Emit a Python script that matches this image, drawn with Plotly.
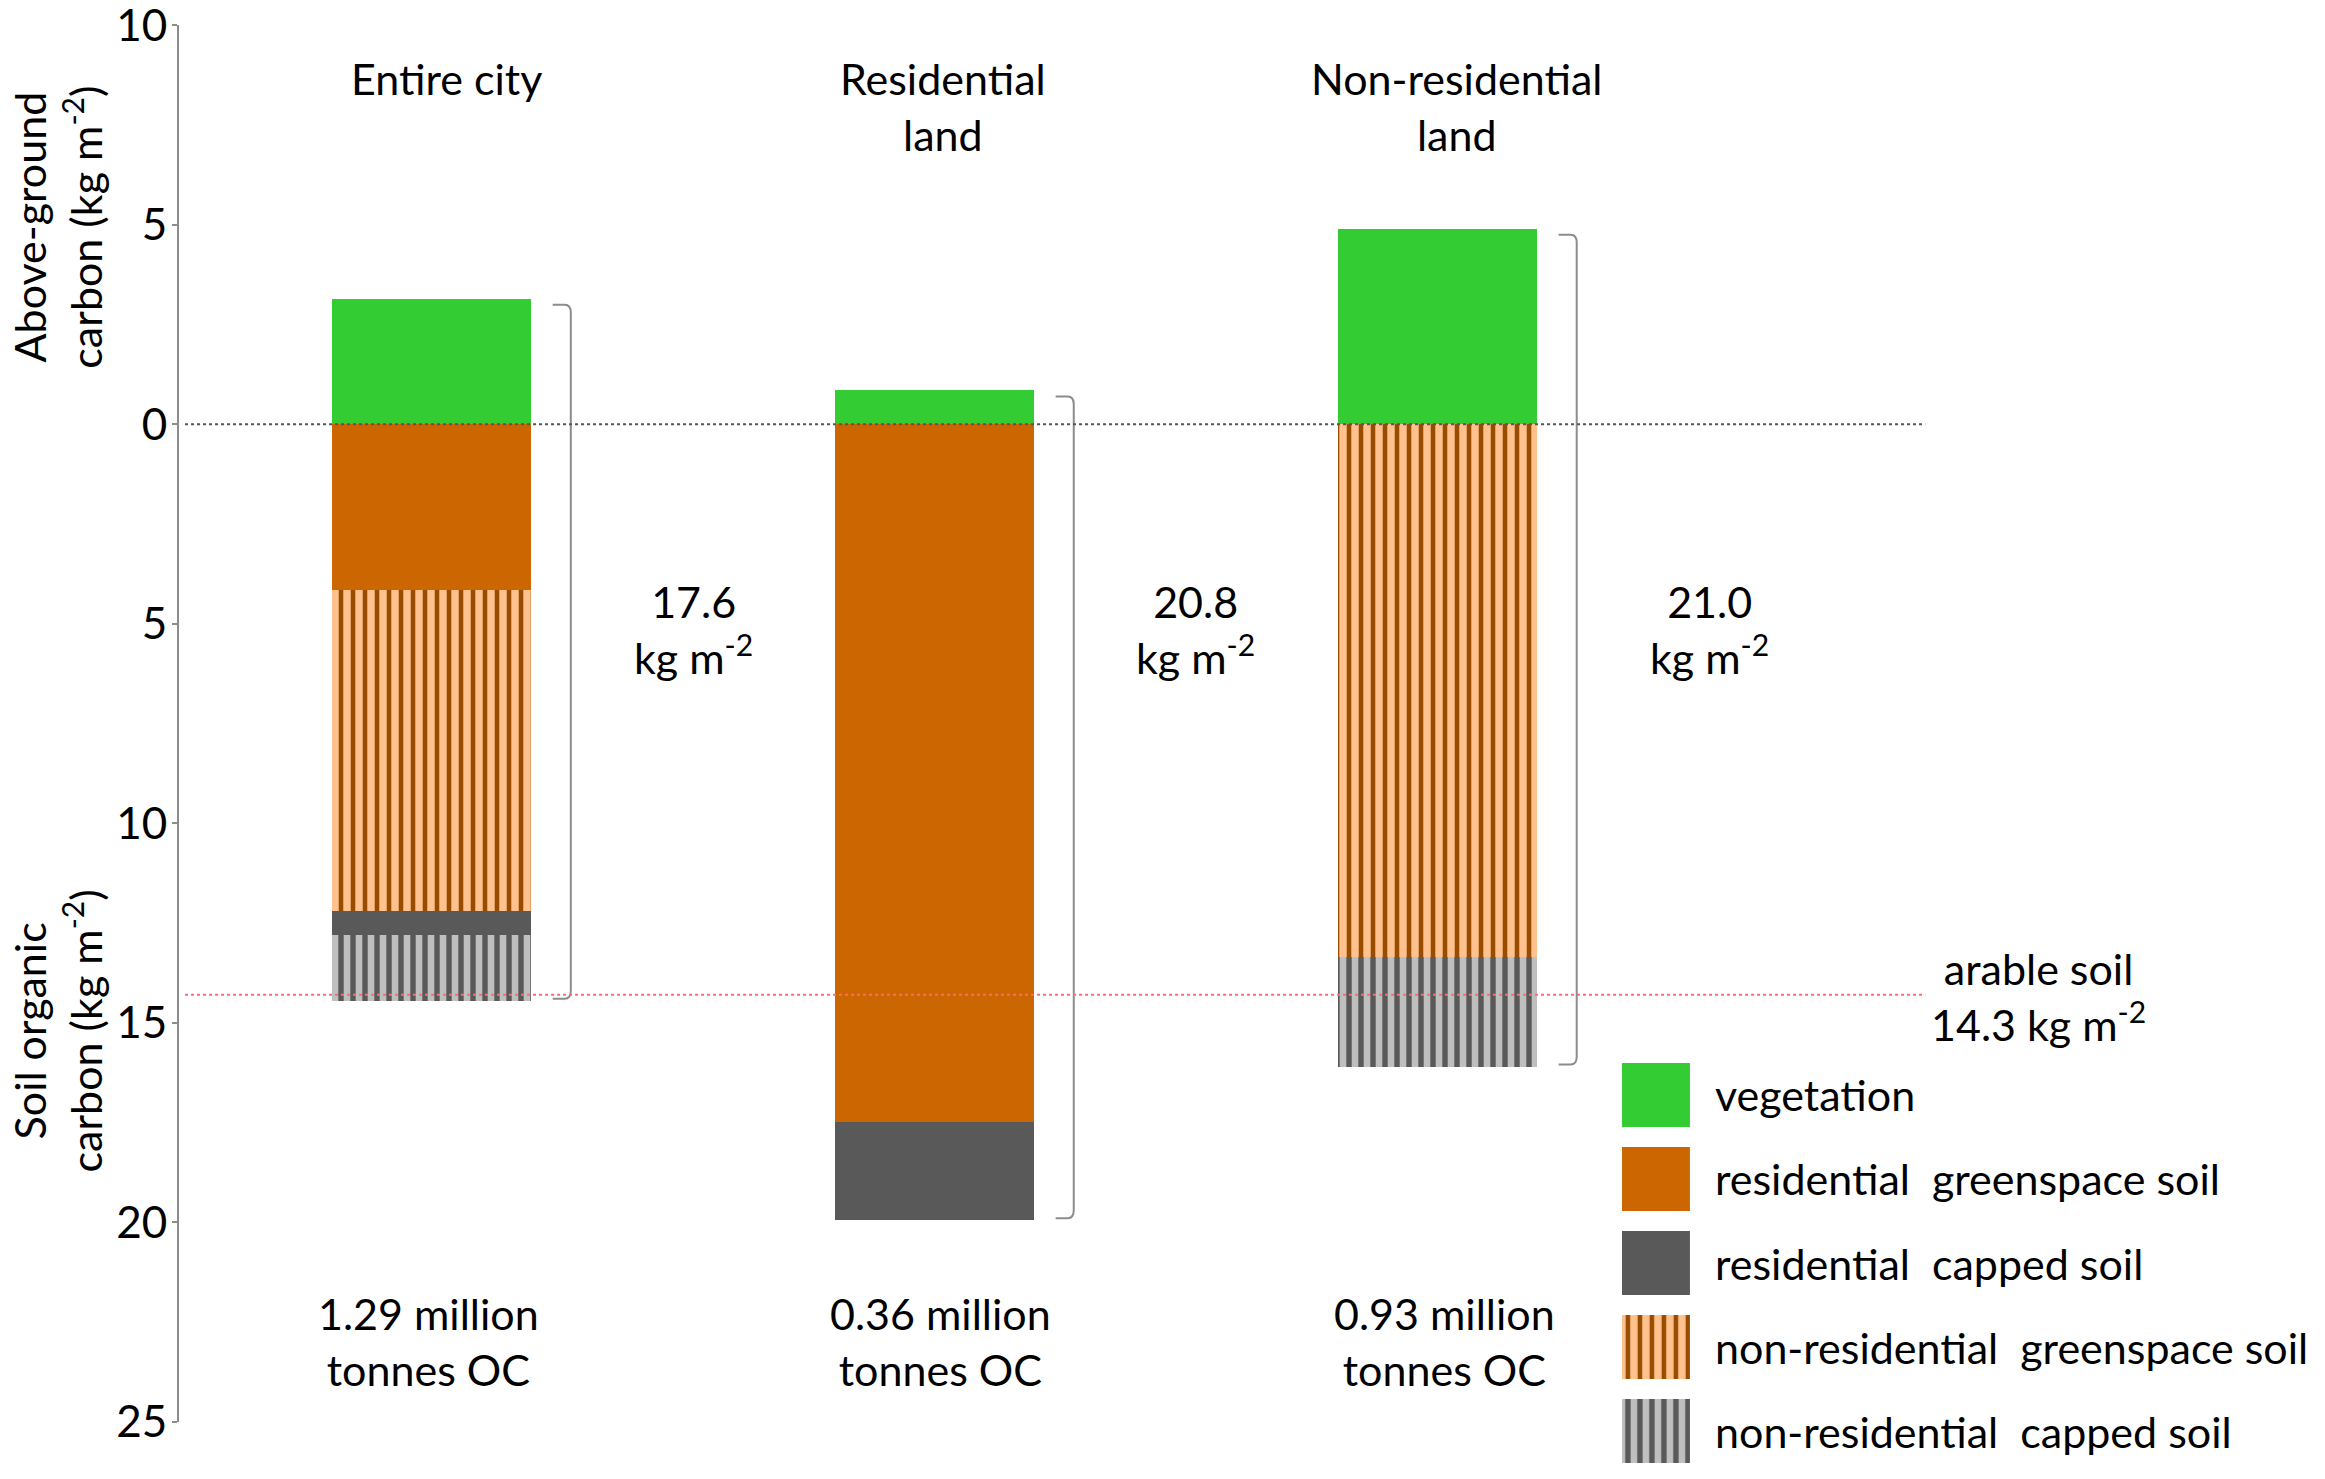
import plotly.graph_objects as go

# ---------------- data ----------------
categories = ["Entire city", "Residential<br>land", "Non-residential<br>land"]
total_labels = ["17.6", "20.8", "21.0"]
stock_labels = ["1.29 million", "0.36 million", "0.93 million"]

vegetation = [3.15, 0.85, 4.9]          # above-ground carbon (kg m-2)
res_greenspace = [4.15, 17.5, 0.0]      # soil organic carbon (kg m-2)
nonres_greenspace = [8.05, 0.0, 13.35]
res_capped = [0.6, 2.45, 0.0]
nonres_capped = [1.65, 0.0, 2.75]
arable_soil = 14.3

y_tick_vals = [10, 5, 0, -5, -10, -15, -20, -25]
y_tick_text = ["10", "5", "0", "5", "10", "15", "20", "25"]

# legend entries: (label, index into the style list)
legend_names = ["vegetation",
                "residential&nbsp; greenspace soil",
                "residential&nbsp; capped soil",
                "non-residential&nbsp; greenspace soil",
                "non-residential&nbsp; capped soil"]
legend_style_idx = [0, 1, 3, 2, 4]

# ---------------- styles ----------------
FONT = "Lato, Carlito, Calibri, sans-serif"
GREEN = "#33CC33"
ORANGE = "#CC6600"
DARK = "#595959"
LIGHT_OR = "#FFC28F"
BROWN = "#994C00"
LIGHT_GREY = "#BFBFBF"

styles = [
    dict(color=GREEN),
    dict(color=ORANGE),
    dict(color=LIGHT_OR, pattern=dict(shape="|", fgcolor=BROWN, bgcolor=LIGHT_OR, size=12, solidity=0.38, fillmode="replace")),
    dict(color=DARK),
    dict(color=LIGHT_GREY, pattern=dict(shape="|", fgcolor=DARK, bgcolor=LIGHT_GREY, size=12, solidity=0.45, fillmode="replace")),
]

# small horizontal nudges of the text blocks relative to the bar centres
header_dx = [0.03, 0.018, 0.038]
stock_dx = [-0.006, 0.012, 0.014]
total_dx = [0.52, 0.52, 0.54]

xpos = list(range(len(categories)))
series = [vegetation,
          [-v for v in res_greenspace],
          [-v for v in nonres_greenspace],
          [-v for v in res_capped],
          [-v for v in nonres_capped]]

fig = go.Figure()
BAR_W = 0.396
for vals, st in zip(series, styles):
    fig.add_trace(go.Bar(x=xpos, y=vals, width=BAR_W,
                         marker=dict(line=dict(width=0), **st),
                         showlegend=False, hoverinfo="skip"))

# legend swatches drawn as bars on an auxiliary axis pair
for row, si in enumerate(legend_style_idx):
    fig.add_trace(go.Bar(x=[1], y=[row], orientation="h", width=0.76,
                         marker=dict(line=dict(width=0), **styles[si]),
                         xaxis="x2", yaxis="y2", showlegend=False, hoverinfo="skip"))

annotations = []
shapes = []
TXT = 43

for i in xpos:
    annotations.append(dict(x=i + header_dx[i], y=9.35, xref="x", yref="y", text=categories[i],
                            showarrow=False, xanchor="center", yanchor="top",
                            font=dict(size=TXT, family=FONT, color="black")))
    annotations.append(dict(x=i + total_dx[i], y=-5.15, xref="x", yref="y",
                            text=total_labels[i] + "<br>kg m<sup>-2</sup>",
                            showarrow=False, xanchor="center", yanchor="middle",
                            font=dict(size=TXT, family=FONT, color="black")))
    annotations.append(dict(x=i + stock_dx[i], y=-23.0, xref="x", yref="y",
                            text=stock_labels[i] + "<br>tonnes OC",
                            showarrow=False, xanchor="center", yanchor="middle",
                            font=dict(size=TXT, family=FONT, color="black")))
    top = vegetation[i] - 0.15
    bot = -(res_greenspace[i] + nonres_greenspace[i] + res_capped[i] + nonres_capped[i]) + 0.05
    xv = i + 0.277
    xh = i + 0.241
    rx, ry = 0.012, 0.2
    path = (f"M {xh},{top} L {xv - rx},{top} Q {xv},{top} {xv},{top - ry} "
            f"L {xv},{bot + ry} Q {xv},{bot} {xv - rx},{bot} L {xh},{bot}")
    shapes.append(dict(type="path", path=path, xref="x", yref="y",
                       line=dict(color="#8C8C8C", width=2)))

shapes.append(dict(type="line", xref="x", yref="y", x0=-0.49, x1=2.97, y0=0, y1=0,
                   line=dict(color="#555555", width=2, dash="dot")))
shapes.append(dict(type="line", xref="x", yref="y", x0=-0.49, x1=2.97,
                   y0=-arable_soil, y1=-arable_soil,
                   line=dict(color="#FF6B6B", width=2, dash="dot")))

annotations.append(dict(x=3.196, y=-14.35, xref="x", yref="y",
                        text=f"arable soil<br>{arable_soil} kg m<sup>-2</sup>",
                        showarrow=False, xanchor="center", yanchor="middle",
                        font=dict(size=TXT, family=FONT, color="black")))

annotations.append(dict(x=-0.057, y=4.95, xref="paper", yref="y",
                        text="Above-ground<br>carbon (kg m<sup>-2</sup>)", textangle=-90,
                        showarrow=False, xanchor="center", yanchor="middle",
                        font=dict(size=TXT, family=FONT, color="black")))
annotations.append(dict(x=-0.057, y=-15.2, xref="paper", yref="y",
                        text="Soil organic<br>carbon (kg m<sup>-2</sup>)", textangle=-90,
                        showarrow=False, xanchor="center", yanchor="middle",
                        font=dict(size=TXT, family=FONT, color="black")))

for row, name in enumerate(legend_names):
    annotations.append(dict(x=0.7215, y=row, xref="paper", yref="y2", text=name,
                            showarrow=False, xanchor="left", yanchor="middle",
                            font=dict(size=TXT, family=FONT, color="black")))

# figure is drawn inside the page's default 8px body margin
fig.update_layout(
    template="none",
    width=2309, height=1463,
    margin=dict(l=171, r=12, t=17, b=0, autoexpand=False),
    paper_bgcolor="white", plot_bgcolor="white",
    barmode="relative", bargap=0,
    showlegend=False,
    xaxis=dict(range=[-0.502, 3.725], visible=False, domain=[0, 1], anchor="y", automargin=False),
    yaxis=dict(range=[-25.01, 10.01], domain=[0.0339, 1], tickvals=y_tick_vals, ticktext=y_tick_text,
               showline=True, linecolor="#8C8C8C", linewidth=2, ticks="outside", ticklen=5,
               tickcolor="#8C8C8C", tickwidth=2, showgrid=False, zeroline=False, automargin=False,
               ticklabeloverflow="allow", ticklabelstandoff=-4,
               tickfont=dict(size=44, family=FONT, color="black"), anchor="x"),
    xaxis2=dict(domain=[0.6787, 0.7107], range=[0, 1], visible=False, anchor="y2", automargin=False),
    yaxis2=dict(domain=[0.0044, 0.2891], range=[4.4, -0.5], visible=False, anchor="x2", automargin=False),
    annotations=annotations,
    shapes=shapes,
)

fig.write_html("out.html")
